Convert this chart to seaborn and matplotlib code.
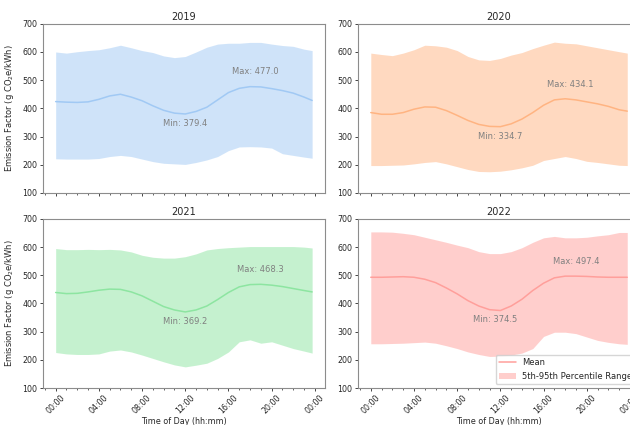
import pandas as pd
import matplotlib
matplotlib.use('Agg')
import matplotlib.pyplot as plt
import matplotlib.dates as mdates
import seaborn as sns

# Hour of day for each sample (last sample at 23:45)
hours = [0, 1, 2, 3, 4, 5, 6, 7, 8, 9, 10, 11, 12, 13, 14, 15, 16, 17, 18, 19, 20, 21, 22, 23, 23.75]

years = ['2019', '2020', '2021', '2022']

mean_2019 = [424, 422, 421, 423, 432, 444, 450, 440, 427, 409, 393, 383, 380, 389, 404, 430, 456, 471, 477, 476, 470, 463, 454, 440, 428]
p5_2019 = [221, 220, 220, 220, 222, 229, 233, 229, 220, 211, 205, 203, 201, 208, 217, 229, 250, 263, 264, 263, 259, 239, 233, 227, 223]
p95_2019 = [600, 596, 601, 605, 608, 615, 624, 615, 605, 598, 586, 580, 584, 600, 617, 628, 631, 631, 634, 634, 628, 623, 620, 610, 605]

mean_2020 = [385, 379, 379, 385, 397, 405, 404, 392, 375, 357, 343, 336, 335, 345, 362, 385, 411, 430, 434, 430, 423, 416, 407, 395, 390]
p5_2020 = [197, 197, 198, 199, 203, 208, 211, 203, 193, 183, 176, 175, 177, 182, 189, 198, 215, 222, 229, 222, 212, 208, 203, 198, 197]
p95_2020 = [596, 591, 587, 596, 608, 624, 622, 617, 605, 584, 572, 570, 577, 589, 598, 612, 624, 635, 631, 629, 622, 615, 608, 601, 596]

mean_2021 = [439, 435, 436, 441, 447, 451, 450, 441, 427, 408, 389, 377, 370, 377, 391, 414, 439, 459, 467, 468, 465, 460, 453, 446, 441]
p5_2021 = [226, 221, 219, 219, 221, 231, 235, 228, 217, 205, 193, 182, 175, 181, 188, 205, 228, 264, 271, 259, 264, 252, 240, 231, 224]
p95_2021 = [595, 591, 591, 592, 591, 592, 590, 583, 571, 564, 561, 561, 566, 576, 590, 595, 598, 600, 602, 602, 602, 602, 602, 600, 597]

mean_2022 = [493, 493, 494, 495, 493, 486, 474, 455, 434, 410, 391, 378, 375, 391, 415, 446, 472, 491, 497, 497, 496, 494, 493, 493, 493]
p5_2022 = [257, 257, 258, 259, 261, 263, 259, 250, 240, 228, 219, 212, 213, 217, 224, 240, 283, 298, 298, 293, 281, 269, 262, 257, 255]
p95_2022 = [654, 654, 653, 649, 644, 635, 626, 617, 607, 598, 584, 577, 577, 584, 598, 617, 633, 638, 633, 633, 635, 640, 644, 652, 652]

# Reported min / max of the mean curve and the hour where they occur
max_vals = [477.0, 434.1, 468.3, 497.4]
max_hours = [18.5, 18.5, 19.0, 19.0]
min_vals = [379.4, 334.7, 369.2, 374.5]
min_hours = [12.0, 12.0, 12.0, 11.5]

means = [mean_2019, mean_2020, mean_2021, mean_2022]
lows = [p5_2019, p5_2020, p5_2021, p5_2022]
highs = [p95_2019, p95_2020, p95_2021, p95_2022]

base = pd.Timestamp('2000-01-01')
times = base + pd.to_timedelta(hours, unit='h')

sns.set_style('ticks', {'axes.edgecolor': '0.55'})
plt.rcParams['font.family'] = ['DejaVu Sans']
colors = sns.color_palette('pastel')[:4]

fig, axes = plt.subplots(2, 2, figsize=(6.3, 4.25), dpi=100, sharex=True)
fig.subplots_adjust(left=0.068, right=1.016, top=0.944, bottom=0.087, wspace=0.117, hspace=0.154)

for i, ax in enumerate(axes.flat):
    color = colors[i]
    sns.lineplot(x=times, y=means[i], ax=ax, color=color, linewidth=1.1, label='Mean')
    ax.fill_between(times, lows[i], highs[i], color=color, alpha=0.5, linewidth=0,
                    label='5th-95th Percentile Range')

    t_max = base + pd.Timedelta(hours=max_hours[i])
    t_min = base + pd.Timedelta(hours=min_hours[i])
    ax.text(t_max, max_vals[i] + 52, f'Max: {max_vals[i]:.1f}', ha='center', va='center',
            fontsize=6, color='0.5')
    ax.text(t_min, min_vals[i] - 33, f'Min: {min_vals[i]:.1f}', ha='center', va='center',
            fontsize=6, color='0.5')

    ax.set_ylim(100, 700)
    ax.set_title(years[i], fontsize=7, pad=3)
    ax.xaxis.set_major_locator(mdates.HourLocator(byhour=range(0, 24, 4)))
    ax.xaxis.set_minor_locator(mdates.HourLocator())
    ax.xaxis.set_major_formatter(mdates.DateFormatter('%H:%M'))
    ax.tick_params(axis='both', which='major', labelsize=5.7, length=2, width=0.6, pad=2)
    ax.tick_params(axis='x', which='minor', length=1.2, width=0.5)
    ax.set_xlabel('')
    ax.set_ylabel('')

    if i < 3:
        ax.get_legend().remove()

for ax in axes[1]:
    ax.tick_params(axis='x', labelrotation=45)
    ax.set_xlabel('Time of Day (hh:mm)', fontsize=5.8, labelpad=1)

for ax in axes[:, 0]:
    ax.set_ylabel('Emission Factor (g CO$_2$e/kWh)', fontsize=6.0, labelpad=4.5)

axes[1, 1].legend(loc='lower right', fontsize=6, frameon=True)

plt.savefig('out.png', dpi=100)
